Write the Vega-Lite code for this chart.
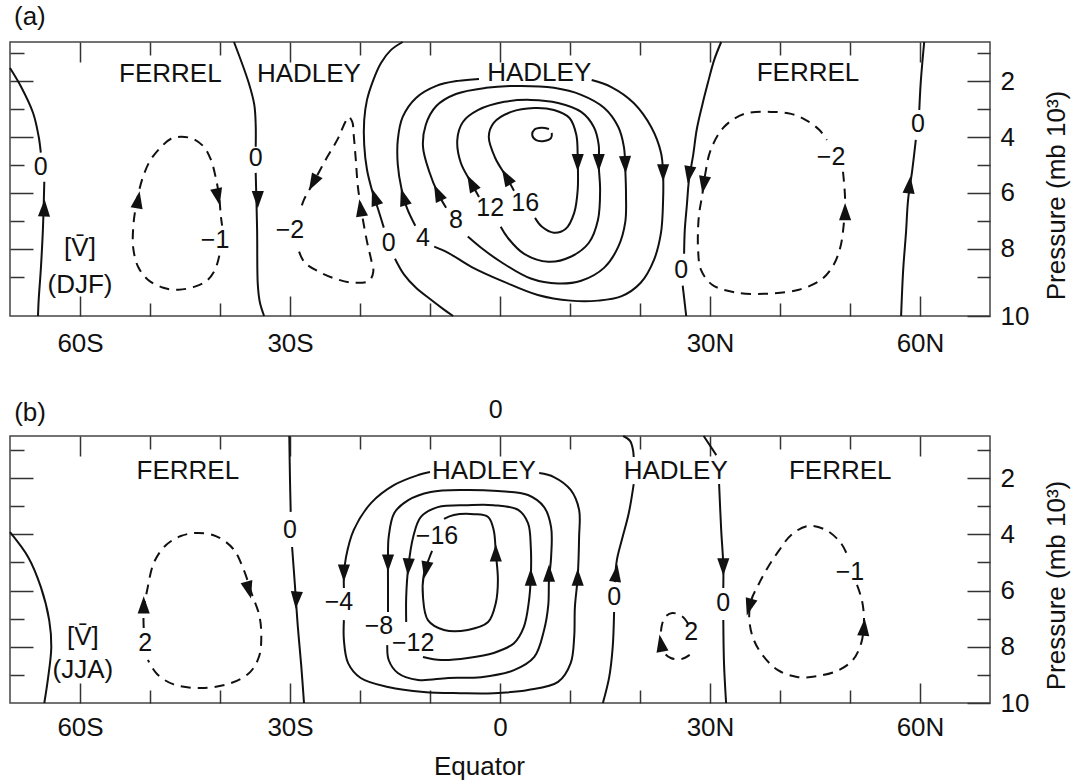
{
  "$schema": "https://vega.github.io/schema/vega-lite/v6.json",
  "background": "white",
  "padding": {"left": 5, "top": 3, "right": 2, "bottom": 2},
  "bounds": "flush",
  "spacing": 120,
  "config": {
    "font": "Liberation Sans",
    "view": {"stroke": "#444", "strokeWidth": 1.5},
    "axis": {"domain": false, "grid": false, "tickColor": "#333", "tickWidth": 1.5, "labelFont": "Liberation Sans", "labelFontSize": 26, "labelColor": "#111", "titleFont": "Liberation Sans", "titleFontSize": 26, "titleFontWeight": "normal", "titleColor": "#111", "labelOverlap": false, "labelFlush": false},
    "title": {"font": "Liberation Sans", "fontSize": 26, "fontWeight": "normal", "color": "#111"}
  },
  "datasets": {
    "a_lines": [
      {"id": "a_z1", "cell": "zero", "lat": -70.0, "p": 1.53}, {"id": "a_z1", "cell": "zero", "lat": -68.4, "p": 2.21}, {"id": "a_z1", "cell": "zero", "lat": -66.7, "p": 3.14}, {"id": "a_z1", "cell": "zero", "lat": -65.9, "p": 3.99}, {"id": "a_z1", "cell": "zero", "lat": -65.6, "p": 4.56},
      {"id": "a_z2", "cell": "zero", "lat": -65.1, "p": 5.6}, {"id": "a_z2", "cell": "zero", "lat": -65.3, "p": 7.31}, {"id": "a_z2", "cell": "zero", "lat": -65.6, "p": 8.74}, {"id": "a_z2", "cell": "zero", "lat": -65.9, "p": 9.81}, {"id": "a_z2", "cell": "zero", "lat": -66.0, "p": 10.4},
      {"id": "a_z3", "cell": "zero", "lat": -38.0, "p": 0.6}, {"id": "a_z3", "cell": "zero", "lat": -35.9, "p": 2.06}, {"id": "a_z3", "cell": "zero", "lat": -35.1, "p": 2.85}, {"id": "a_z3", "cell": "zero", "lat": -34.9, "p": 3.56}, {"id": "a_z3", "cell": "zero", "lat": -34.9, "p": 4.35},
      {"id": "a_z4", "cell": "zero", "lat": -34.9, "p": 5.28}, {"id": "a_z4", "cell": "zero", "lat": -34.7, "p": 7.31}, {"id": "a_z4", "cell": "zero", "lat": -34.6, "p": 9.28}, {"id": "a_z4", "cell": "zero", "lat": -34.3, "p": 9.92}, {"id": "a_z4", "cell": "zero", "lat": -33.7, "p": 10.4},
      {"id": "a_f1", "cell": "Ferrel", "lat": -40.1, "p": 8.24}, {"id": "a_f1", "cell": "Ferrel", "lat": -40.7, "p": 8.74}, {"id": "a_f1", "cell": "Ferrel", "lat": -41.9, "p": 9.14}, {"id": "a_f1", "cell": "Ferrel", "lat": -43.6, "p": 9.35}, {"id": "a_f1", "cell": "Ferrel", "lat": -45.9, "p": 9.46}, {"id": "a_f1", "cell": "Ferrel", "lat": -48.1, "p": 9.39}, {"id": "a_f1", "cell": "Ferrel", "lat": -50.3, "p": 9.1}, {"id": "a_f1", "cell": "Ferrel", "lat": -51.7, "p": 8.64}, {"id": "a_f1", "cell": "Ferrel", "lat": -52.4, "p": 7.96}, {"id": "a_f1", "cell": "Ferrel", "lat": -52.4, "p": 7.24}, {"id": "a_f1", "cell": "Ferrel", "lat": -52.1, "p": 6.6}, {"id": "a_f1", "cell": "Ferrel", "lat": -51.6, "p": 5.96}, {"id": "a_f1", "cell": "Ferrel", "lat": -50.9, "p": 5.35}, {"id": "a_f1", "cell": "Ferrel", "lat": -49.9, "p": 4.81}, {"id": "a_f1", "cell": "Ferrel", "lat": -48.4, "p": 4.35}, {"id": "a_f1", "cell": "Ferrel", "lat": -47.0, "p": 4.06}, {"id": "a_f1", "cell": "Ferrel", "lat": -45.6, "p": 3.99}, {"id": "a_f1", "cell": "Ferrel", "lat": -43.9, "p": 4.06}, {"id": "a_f1", "cell": "Ferrel", "lat": -42.3, "p": 4.35}, {"id": "a_f1", "cell": "Ferrel", "lat": -41.3, "p": 4.81}, {"id": "a_f1", "cell": "Ferrel", "lat": -40.6, "p": 5.46}, {"id": "a_f1", "cell": "Ferrel", "lat": -40.1, "p": 6.17}, {"id": "a_f1", "cell": "Ferrel", "lat": -39.9, "p": 6.78}, {"id": "a_f1", "cell": "Ferrel", "lat": -39.7, "p": 7.17},
      {"id": "a_f2", "cell": "Ferrel", "lat": -28.7, "p": 8.1}, {"id": "a_f2", "cell": "Ferrel", "lat": -27.9, "p": 8.49}, {"id": "a_f2", "cell": "Ferrel", "lat": -25.6, "p": 8.85}, {"id": "a_f2", "cell": "Ferrel", "lat": -23.1, "p": 9.1}, {"id": "a_f2", "cell": "Ferrel", "lat": -20.9, "p": 9.21}, {"id": "a_f2", "cell": "Ferrel", "lat": -18.7, "p": 9.14}, {"id": "a_f2", "cell": "Ferrel", "lat": -18.1, "p": 8.81}, {"id": "a_f2", "cell": "Ferrel", "lat": -18.4, "p": 8.39}, {"id": "a_f2", "cell": "Ferrel", "lat": -19.0, "p": 7.74}, {"id": "a_f2", "cell": "Ferrel", "lat": -19.7, "p": 6.78}, {"id": "a_f2", "cell": "Ferrel", "lat": -20.3, "p": 5.78}, {"id": "a_f2", "cell": "Ferrel", "lat": -20.6, "p": 4.81}, {"id": "a_f2", "cell": "Ferrel", "lat": -20.9, "p": 3.92}, {"id": "a_f2", "cell": "Ferrel", "lat": -21.1, "p": 3.46}, {"id": "a_f2", "cell": "Ferrel", "lat": -21.6, "p": 3.28}, {"id": "a_f2", "cell": "Ferrel", "lat": -22.1, "p": 3.46}, {"id": "a_f2", "cell": "Ferrel", "lat": -23.1, "p": 4.03}, {"id": "a_f2", "cell": "Ferrel", "lat": -24.9, "p": 4.81}, {"id": "a_f2", "cell": "Ferrel", "lat": -26.6, "p": 5.6}, {"id": "a_f2", "cell": "Ferrel", "lat": -28.0, "p": 6.24}, {"id": "a_f2", "cell": "Ferrel", "lat": -28.6, "p": 6.67},
      {"id": "a_z5", "cell": "zero", "lat": -13.9, "p": 0.6}, {"id": "a_z5", "cell": "zero", "lat": -15.6, "p": 0.89}, {"id": "a_z5", "cell": "zero", "lat": -17.0, "p": 1.35}, {"id": "a_z5", "cell": "zero", "lat": -18.1, "p": 1.96}, {"id": "a_z5", "cell": "zero", "lat": -19.0, "p": 2.67}, {"id": "a_z5", "cell": "zero", "lat": -19.4, "p": 3.39}, {"id": "a_z5", "cell": "zero", "lat": -19.4, "p": 4.28}, {"id": "a_z5", "cell": "zero", "lat": -19.0, "p": 5.17}, {"id": "a_z5", "cell": "zero", "lat": -18.3, "p": 5.89}, {"id": "a_z5", "cell": "zero", "lat": -17.3, "p": 6.67}, {"id": "a_z5", "cell": "zero", "lat": -16.6, "p": 7.24},
      {"id": "a_z6", "cell": "zero", "lat": -15.0, "p": 8.35}, {"id": "a_z6", "cell": "zero", "lat": -13.7, "p": 8.92}, {"id": "a_z6", "cell": "zero", "lat": -12.0, "p": 9.39}, {"id": "a_z6", "cell": "zero", "lat": -9.9, "p": 9.81}, {"id": "a_z6", "cell": "zero", "lat": -8.0, "p": 10.17}, {"id": "a_z6", "cell": "zero", "lat": -6.7, "p": 10.4},
      {"id": "a_h4a", "cell": "Hadley", "lat": -12.1, "p": 7.17}, {"id": "a_h4a", "cell": "Hadley", "lat": -13.3, "p": 6.53}, {"id": "a_h4a", "cell": "Hadley", "lat": -14.1, "p": 5.81}, {"id": "a_h4a", "cell": "Hadley", "lat": -14.6, "p": 4.99}, {"id": "a_h4a", "cell": "Hadley", "lat": -14.6, "p": 4.1}, {"id": "a_h4a", "cell": "Hadley", "lat": -13.9, "p": 3.28}, {"id": "a_h4a", "cell": "Hadley", "lat": -12.0, "p": 2.6}, {"id": "a_h4a", "cell": "Hadley", "lat": -9.1, "p": 2.17}, {"id": "a_h4a", "cell": "Hadley", "lat": -6.0, "p": 1.99}, {"id": "a_h4a", "cell": "Hadley", "lat": -3.0, "p": 1.92},
      {"id": "a_h4b", "cell": "Hadley", "lat": 13.1, "p": 1.96}, {"id": "a_h4b", "cell": "Hadley", "lat": 15.9, "p": 2.21}, {"id": "a_h4b", "cell": "Hadley", "lat": 19.1, "p": 2.78}, {"id": "a_h4b", "cell": "Hadley", "lat": 21.6, "p": 3.64}, {"id": "a_h4b", "cell": "Hadley", "lat": 23.0, "p": 4.56}, {"id": "a_h4b", "cell": "Hadley", "lat": 23.3, "p": 5.35}, {"id": "a_h4b", "cell": "Hadley", "lat": 23.3, "p": 6.24}, {"id": "a_h4b", "cell": "Hadley", "lat": 23.0, "p": 7.42}, {"id": "a_h4b", "cell": "Hadley", "lat": 22.0, "p": 8.39}, {"id": "a_h4b", "cell": "Hadley", "lat": 20.1, "p": 9.21}, {"id": "a_h4b", "cell": "Hadley", "lat": 17.3, "p": 9.7}, {"id": "a_h4b", "cell": "Hadley", "lat": 14.0, "p": 9.85}, {"id": "a_h4b", "cell": "Hadley", "lat": 10.1, "p": 9.85}, {"id": "a_h4b", "cell": "Hadley", "lat": 5.4, "p": 9.65}, {"id": "a_h4b", "cell": "Hadley", "lat": 0.6, "p": 9.18}, {"id": "a_h4b", "cell": "Hadley", "lat": -4.1, "p": 8.64}, {"id": "a_h4b", "cell": "Hadley", "lat": -7.4, "p": 8.14}, {"id": "a_h4b", "cell": "Hadley", "lat": -9.4, "p": 7.92},
      {"id": "a_h8", "cell": "Hadley", "lat": -7.7, "p": 6.53}, {"id": "a_h8", "cell": "Hadley", "lat": -8.9, "p": 5.99}, {"id": "a_h8", "cell": "Hadley", "lat": -10.1, "p": 5.24}, {"id": "a_h8", "cell": "Hadley", "lat": -11.0, "p": 4.35}, {"id": "a_h8", "cell": "Hadley", "lat": -10.6, "p": 3.56}, {"id": "a_h8", "cell": "Hadley", "lat": -9.1, "p": 2.89}, {"id": "a_h8", "cell": "Hadley", "lat": -6.3, "p": 2.46}, {"id": "a_h8", "cell": "Hadley", "lat": -2.0, "p": 2.24}, {"id": "a_h8", "cell": "Hadley", "lat": 3.0, "p": 2.17}, {"id": "a_h8", "cell": "Hadley", "lat": 7.7, "p": 2.24}, {"id": "a_h8", "cell": "Hadley", "lat": 11.6, "p": 2.49}, {"id": "a_h8", "cell": "Hadley", "lat": 14.9, "p": 2.96}, {"id": "a_h8", "cell": "Hadley", "lat": 16.9, "p": 3.64}, {"id": "a_h8", "cell": "Hadley", "lat": 17.7, "p": 4.35}, {"id": "a_h8", "cell": "Hadley", "lat": 17.9, "p": 5.17}, {"id": "a_h8", "cell": "Hadley", "lat": 18.0, "p": 6.06}, {"id": "a_h8", "cell": "Hadley", "lat": 17.9, "p": 7.03}, {"id": "a_h8", "cell": "Hadley", "lat": 16.9, "p": 7.92}, {"id": "a_h8", "cell": "Hadley", "lat": 14.9, "p": 8.67}, {"id": "a_h8", "cell": "Hadley", "lat": 11.6, "p": 9.14}, {"id": "a_h8", "cell": "Hadley", "lat": 8.3, "p": 9.24}, {"id": "a_h8", "cell": "Hadley", "lat": 4.4, "p": 9.06}, {"id": "a_h8", "cell": "Hadley", "lat": 0.1, "p": 8.46}, {"id": "a_h8", "cell": "Hadley", "lat": -2.7, "p": 7.96}, {"id": "a_h8", "cell": "Hadley", "lat": -4.6, "p": 7.56},
      {"id": "a_h12", "cell": "Hadley", "lat": -3.0, "p": 6.14}, {"id": "a_h12", "cell": "Hadley", "lat": -4.1, "p": 5.64}, {"id": "a_h12", "cell": "Hadley", "lat": -5.6, "p": 4.92}, {"id": "a_h12", "cell": "Hadley", "lat": -6.1, "p": 4.1}, {"id": "a_h12", "cell": "Hadley", "lat": -5.3, "p": 3.46}, {"id": "a_h12", "cell": "Hadley", "lat": -3.1, "p": 3.03}, {"id": "a_h12", "cell": "Hadley", "lat": 0.6, "p": 2.74}, {"id": "a_h12", "cell": "Hadley", "lat": 4.4, "p": 2.67}, {"id": "a_h12", "cell": "Hadley", "lat": 8.3, "p": 2.78}, {"id": "a_h12", "cell": "Hadley", "lat": 11.6, "p": 3.1}, {"id": "a_h12", "cell": "Hadley", "lat": 13.4, "p": 3.64}, {"id": "a_h12", "cell": "Hadley", "lat": 14.1, "p": 4.28}, {"id": "a_h12", "cell": "Hadley", "lat": 14.1, "p": 4.99}, {"id": "a_h12", "cell": "Hadley", "lat": 14.3, "p": 5.89}, {"id": "a_h12", "cell": "Hadley", "lat": 14.0, "p": 6.96}, {"id": "a_h12", "cell": "Hadley", "lat": 12.7, "p": 7.78}, {"id": "a_h12", "cell": "Hadley", "lat": 10.1, "p": 8.28}, {"id": "a_h12", "cell": "Hadley", "lat": 6.9, "p": 8.46}, {"id": "a_h12", "cell": "Hadley", "lat": 3.4, "p": 8.17}, {"id": "a_h12", "cell": "Hadley", "lat": 1.1, "p": 7.6}, {"id": "a_h12", "cell": "Hadley", "lat": 0.1, "p": 7.21},
      {"id": "a_h16", "cell": "Hadley", "lat": 2.0, "p": 5.92}, {"id": "a_h16", "cell": "Hadley", "lat": 0.9, "p": 5.42}, {"id": "a_h16", "cell": "Hadley", "lat": -0.7, "p": 4.74}, {"id": "a_h16", "cell": "Hadley", "lat": -1.6, "p": 3.99}, {"id": "a_h16", "cell": "Hadley", "lat": -0.9, "p": 3.49}, {"id": "a_h16", "cell": "Hadley", "lat": 1.6, "p": 3.1}, {"id": "a_h16", "cell": "Hadley", "lat": 4.9, "p": 2.96}, {"id": "a_h16", "cell": "Hadley", "lat": 7.7, "p": 3.03}, {"id": "a_h16", "cell": "Hadley", "lat": 9.9, "p": 3.31}, {"id": "a_h16", "cell": "Hadley", "lat": 10.9, "p": 3.92}, {"id": "a_h16", "cell": "Hadley", "lat": 11.1, "p": 4.81}, {"id": "a_h16", "cell": "Hadley", "lat": 11.1, "p": 5.89}, {"id": "a_h16", "cell": "Hadley", "lat": 10.6, "p": 6.71}, {"id": "a_h16", "cell": "Hadley", "lat": 9.4, "p": 7.28}, {"id": "a_h16", "cell": "Hadley", "lat": 7.7, "p": 7.42}, {"id": "a_h16", "cell": "Hadley", "lat": 6.0, "p": 7.21}, {"id": "a_h16", "cell": "Hadley", "lat": 5.0, "p": 6.89},
      {"id": "a_h20", "cell": "Hadley", "lat": 7.0, "p": 3.71}, {"id": "a_h20", "cell": "Hadley", "lat": 5.9, "p": 3.67}, {"id": "a_h20", "cell": "Hadley", "lat": 4.9, "p": 3.74}, {"id": "a_h20", "cell": "Hadley", "lat": 4.6, "p": 3.92}, {"id": "a_h20", "cell": "Hadley", "lat": 5.1, "p": 4.1}, {"id": "a_h20", "cell": "Hadley", "lat": 6.3, "p": 4.14}, {"id": "a_h20", "cell": "Hadley", "lat": 7.3, "p": 4.03}, {"id": "a_h20", "cell": "Hadley", "lat": 7.4, "p": 3.85},
      {"id": "a_z7", "cell": "zero", "lat": 31.6, "p": 0.6}, {"id": "a_z7", "cell": "zero", "lat": 30.6, "p": 1.24}, {"id": "a_z7", "cell": "zero", "lat": 29.7, "p": 2.06}, {"id": "a_z7", "cell": "zero", "lat": 28.9, "p": 2.85}, {"id": "a_z7", "cell": "zero", "lat": 28.1, "p": 3.74}, {"id": "a_z7", "cell": "zero", "lat": 27.6, "p": 4.64}, {"id": "a_z7", "cell": "zero", "lat": 27.0, "p": 5.53}, {"id": "a_z7", "cell": "zero", "lat": 26.7, "p": 6.42}, {"id": "a_z7", "cell": "zero", "lat": 26.4, "p": 7.31}, {"id": "a_z7", "cell": "zero", "lat": 26.3, "p": 8.17},
      {"id": "a_z8", "cell": "zero", "lat": 26.1, "p": 9.31}, {"id": "a_z8", "cell": "zero", "lat": 26.6, "p": 10.4},
      {"id": "a_f3", "cell": "Ferrel", "lat": 49.0, "p": 5.24}, {"id": "a_f3", "cell": "Ferrel", "lat": 49.3, "p": 6.24}, {"id": "a_f3", "cell": "Ferrel", "lat": 49.1, "p": 7.14}, {"id": "a_f3", "cell": "Ferrel", "lat": 48.6, "p": 7.96}, {"id": "a_f3", "cell": "Ferrel", "lat": 47.6, "p": 8.6}, {"id": "a_f3", "cell": "Ferrel", "lat": 45.9, "p": 9.1}, {"id": "a_f3", "cell": "Ferrel", "lat": 42.7, "p": 9.46}, {"id": "a_f3", "cell": "Ferrel", "lat": 38.3, "p": 9.6}, {"id": "a_f3", "cell": "Ferrel", "lat": 33.7, "p": 9.56}, {"id": "a_f3", "cell": "Ferrel", "lat": 30.3, "p": 9.28}, {"id": "a_f3", "cell": "Ferrel", "lat": 28.7, "p": 8.74}, {"id": "a_f3", "cell": "Ferrel", "lat": 28.3, "p": 8.03}, {"id": "a_f3", "cell": "Ferrel", "lat": 28.4, "p": 6.85}, {"id": "a_f3", "cell": "Ferrel", "lat": 28.9, "p": 6.06}, {"id": "a_f3", "cell": "Ferrel", "lat": 29.3, "p": 5.35}, {"id": "a_f3", "cell": "Ferrel", "lat": 30.1, "p": 4.46}, {"id": "a_f3", "cell": "Ferrel", "lat": 32.0, "p": 3.64}, {"id": "a_f3", "cell": "Ferrel", "lat": 34.9, "p": 3.17}, {"id": "a_f3", "cell": "Ferrel", "lat": 38.7, "p": 3.1}, {"id": "a_f3", "cell": "Ferrel", "lat": 41.6, "p": 3.17}, {"id": "a_f3", "cell": "Ferrel", "lat": 43.7, "p": 3.39}, {"id": "a_f3", "cell": "Ferrel", "lat": 45.6, "p": 3.74}, {"id": "a_f3", "cell": "Ferrel", "lat": 46.7, "p": 4.1},
      {"id": "a_z9", "cell": "zero", "lat": 60.6, "p": 0.6}, {"id": "a_z9", "cell": "zero", "lat": 60.1, "p": 2.06}, {"id": "a_z9", "cell": "zero", "lat": 59.9, "p": 3.03},
      {"id": "a_z10", "cell": "zero", "lat": 59.4, "p": 4.1}, {"id": "a_z10", "cell": "zero", "lat": 58.9, "p": 5.17}, {"id": "a_z10", "cell": "zero", "lat": 58.3, "p": 6.24}, {"id": "a_z10", "cell": "zero", "lat": 58.0, "p": 7.42}, {"id": "a_z10", "cell": "zero", "lat": 57.6, "p": 8.74}, {"id": "a_z10", "cell": "zero", "lat": 57.3, "p": 10.4}
    ],
    "a_arrows": [
      {"lat": -65.1, "p": 6.53, "heading": 2}, {"lat": -34.6, "p": 6.24, "heading": 180}, {"lat": -40.3, "p": 6.14, "heading": 168}, {"lat": -51.7, "p": 6.24, "heading": 10},
      {"lat": -19.9, "p": 6.53, "heading": 351}, {"lat": -26.7, "p": 5.64, "heading": 209}, {"lat": -17.9, "p": 6.14, "heading": 342}, {"lat": -13.8, "p": 6.14, "heading": 343},
      {"lat": 23.3, "p": 5.28, "heading": 180}, {"lat": -8.9, "p": 5.99, "heading": 335}, {"lat": 17.9, "p": 4.99, "heading": 178}, {"lat": -4.1, "p": 5.64, "heading": 332},
      {"lat": 14.1, "p": 4.92, "heading": 180}, {"lat": 0.9, "p": 5.42, "heading": 330}, {"lat": 11.1, "p": 4.92, "heading": 180}, {"lat": 27.0, "p": 5.35, "heading": 189},
      {"lat": 29.1, "p": 5.71, "heading": 189}, {"lat": 49.3, "p": 6.67, "heading": 0}, {"lat": 58.5, "p": 5.71, "heading": 6}
    ],
    "a_labels": [
      {"text": "0", "lat": -65.6, "p": 5.06}, {"text": "0", "lat": -34.9, "p": 4.74}, {"text": "−1", "lat": -40.7, "p": 7.67}, {"text": "−2", "lat": -30.0, "p": 7.31},
      {"text": "0", "lat": -15.9, "p": 7.78}, {"text": "4", "lat": -11.0, "p": 7.6}, {"text": "8", "lat": -6.3, "p": 6.96}, {"text": "12", "lat": -1.4, "p": 6.53},
      {"text": "16", "lat": 3.6, "p": 6.35}, {"text": "0", "lat": 25.9, "p": 8.74}, {"text": "−2", "lat": 47.3, "p": 4.71}, {"text": "0", "lat": 59.7, "p": 3.53}
    ],
    "a_names": [
      {"text": "FERREL", "lat": -47.1, "p": 1.74}, {"text": "HADLEY", "lat": -27.3, "p": 1.74}, {"text": "HADLEY", "lat": 5.6, "p": 1.71}, {"text": "FERREL", "lat": 44.0, "p": 1.71},
      {"text": "[V̄]", "lat": -60.0, "p": 7.96}, {"text": "(DJF)", "lat": -60.0, "p": 9.28}
    ],
    "b_lines": [
      {"id": "b_z1", "cell": "zero", "lat": -70.0, "p": 3.92}, {"id": "b_z1", "cell": "zero", "lat": -67.4, "p": 4.81}, {"id": "b_z1", "cell": "zero", "lat": -65.6, "p": 5.87}, {"id": "b_z1", "cell": "zero", "lat": -64.4, "p": 7.05}, {"id": "b_z1", "cell": "zero", "lat": -64.1, "p": 8.01}, {"id": "b_z1", "cell": "zero", "lat": -64.6, "p": 9.18}, {"id": "b_z1", "cell": "zero", "lat": -65.1, "p": 10.0},
      {"id": "b_f1", "cell": "Ferrel", "lat": -50.9, "p": 7.33}, {"id": "b_f1", "cell": "Ferrel", "lat": -50.9, "p": 6.69}, {"id": "b_f1", "cell": "Ferrel", "lat": -50.4, "p": 5.98}, {"id": "b_f1", "cell": "Ferrel", "lat": -49.4, "p": 4.98}, {"id": "b_f1", "cell": "Ferrel", "lat": -47.7, "p": 4.38}, {"id": "b_f1", "cell": "Ferrel", "lat": -45.6, "p": 4.06}, {"id": "b_f1", "cell": "Ferrel", "lat": -43.3, "p": 3.95}, {"id": "b_f1", "cell": "Ferrel", "lat": -40.6, "p": 4.06}, {"id": "b_f1", "cell": "Ferrel", "lat": -38.1, "p": 4.52}, {"id": "b_f1", "cell": "Ferrel", "lat": -36.6, "p": 5.27}, {"id": "b_f1", "cell": "Ferrel", "lat": -35.4, "p": 6.16}, {"id": "b_f1", "cell": "Ferrel", "lat": -34.4, "p": 6.87}, {"id": "b_f1", "cell": "Ferrel", "lat": -34.1, "p": 7.58}, {"id": "b_f1", "cell": "Ferrel", "lat": -34.4, "p": 8.33}, {"id": "b_f1", "cell": "Ferrel", "lat": -35.7, "p": 8.9}, {"id": "b_f1", "cell": "Ferrel", "lat": -38.4, "p": 9.29}, {"id": "b_f1", "cell": "Ferrel", "lat": -42.7, "p": 9.47}, {"id": "b_f1", "cell": "Ferrel", "lat": -46.7, "p": 9.33}, {"id": "b_f1", "cell": "Ferrel", "lat": -49.0, "p": 8.97}, {"id": "b_f1", "cell": "Ferrel", "lat": -50.3, "p": 8.47},
      {"id": "b_z2", "cell": "zero", "lat": -30.1, "p": 0.5}, {"id": "b_z2", "cell": "zero", "lat": -30.0, "p": 2.07}, {"id": "b_z2", "cell": "zero", "lat": -29.9, "p": 3.2},
      {"id": "b_z3", "cell": "zero", "lat": -29.7, "p": 4.45}, {"id": "b_z3", "cell": "zero", "lat": -29.3, "p": 5.8}, {"id": "b_z3", "cell": "zero", "lat": -28.9, "p": 7.23}, {"id": "b_z3", "cell": "zero", "lat": -28.4, "p": 8.65}, {"id": "b_z3", "cell": "zero", "lat": -28.0, "p": 10.0},
      {"id": "b_h4a", "cell": "Hadley", "lat": -22.3, "p": 5.91}, {"id": "b_h4a", "cell": "Hadley", "lat": -22.3, "p": 5.45}, {"id": "b_h4a", "cell": "Hadley", "lat": -22.0, "p": 4.81}, {"id": "b_h4a", "cell": "Hadley", "lat": -20.9, "p": 3.85}, {"id": "b_h4a", "cell": "Hadley", "lat": -18.4, "p": 2.88}, {"id": "b_h4a", "cell": "Hadley", "lat": -15.1, "p": 2.24}, {"id": "b_h4a", "cell": "Hadley", "lat": -11.7, "p": 1.89}, {"id": "b_h4a", "cell": "Hadley", "lat": -10.0, "p": 1.78},
      {"id": "b_h4b", "cell": "Hadley", "lat": 5.6, "p": 1.82}, {"id": "b_h4b", "cell": "Hadley", "lat": 7.7, "p": 1.96}, {"id": "b_h4b", "cell": "Hadley", "lat": 10.1, "p": 2.42}, {"id": "b_h4b", "cell": "Hadley", "lat": 11.3, "p": 3.13}, {"id": "b_h4b", "cell": "Hadley", "lat": 11.3, "p": 4.09}, {"id": "b_h4b", "cell": "Hadley", "lat": 11.1, "p": 5.52}, {"id": "b_h4b", "cell": "Hadley", "lat": 10.7, "p": 6.59}, {"id": "b_h4b", "cell": "Hadley", "lat": 10.6, "p": 7.65}, {"id": "b_h4b", "cell": "Hadley", "lat": 10.1, "p": 8.58}, {"id": "b_h4b", "cell": "Hadley", "lat": 8.3, "p": 9.25}, {"id": "b_h4b", "cell": "Hadley", "lat": 4.0, "p": 9.54}, {"id": "b_h4b", "cell": "Hadley", "lat": -0.9, "p": 9.65}, {"id": "b_h4b", "cell": "Hadley", "lat": -5.6, "p": 9.65}, {"id": "b_h4b", "cell": "Hadley", "lat": -10.9, "p": 9.61}, {"id": "b_h4b", "cell": "Hadley", "lat": -16.0, "p": 9.43}, {"id": "b_h4b", "cell": "Hadley", "lat": -19.9, "p": 9.11}, {"id": "b_h4b", "cell": "Hadley", "lat": -21.7, "p": 8.58}, {"id": "b_h4b", "cell": "Hadley", "lat": -22.3, "p": 7.76}, {"id": "b_h4b", "cell": "Hadley", "lat": -22.3, "p": 7.05},
      {"id": "b_h8", "cell": "Hadley", "lat": -16.0, "p": 6.76}, {"id": "b_h8", "cell": "Hadley", "lat": -16.0, "p": 5.8}, {"id": "b_h8", "cell": "Hadley", "lat": -16.0, "p": 4.91}, {"id": "b_h8", "cell": "Hadley", "lat": -15.9, "p": 4.09}, {"id": "b_h8", "cell": "Hadley", "lat": -15.1, "p": 3.24}, {"id": "b_h8", "cell": "Hadley", "lat": -13.1, "p": 2.78}, {"id": "b_h8", "cell": "Hadley", "lat": -9.9, "p": 2.49}, {"id": "b_h8", "cell": "Hadley", "lat": -5.1, "p": 2.42}, {"id": "b_h8", "cell": "Hadley", "lat": -0.3, "p": 2.46}, {"id": "b_h8", "cell": "Hadley", "lat": 4.0, "p": 2.6}, {"id": "b_h8", "cell": "Hadley", "lat": 6.3, "p": 3.03}, {"id": "b_h8", "cell": "Hadley", "lat": 7.3, "p": 3.74}, {"id": "b_h8", "cell": "Hadley", "lat": 7.3, "p": 4.81}, {"id": "b_h8", "cell": "Hadley", "lat": 7.0, "p": 5.62}, {"id": "b_h8", "cell": "Hadley", "lat": 6.9, "p": 6.51}, {"id": "b_h8", "cell": "Hadley", "lat": 6.3, "p": 7.4}, {"id": "b_h8", "cell": "Hadley", "lat": 4.9, "p": 8.36}, {"id": "b_h8", "cell": "Hadley", "lat": 2.0, "p": 8.83}, {"id": "b_h8", "cell": "Hadley", "lat": -2.7, "p": 9.08}, {"id": "b_h8", "cell": "Hadley", "lat": -7.4, "p": 9.11}, {"id": "b_h8", "cell": "Hadley", "lat": -11.7, "p": 9.18}, {"id": "b_h8", "cell": "Hadley", "lat": -14.6, "p": 8.93}, {"id": "b_h8", "cell": "Hadley", "lat": -15.9, "p": 8.47}, {"id": "b_h8", "cell": "Hadley", "lat": -16.1, "p": 7.94},
      {"id": "b_h12", "cell": "Hadley", "lat": -13.4, "p": 7.12}, {"id": "b_h12", "cell": "Hadley", "lat": -13.4, "p": 6.23}, {"id": "b_h12", "cell": "Hadley", "lat": -13.1, "p": 5.16}, {"id": "b_h12", "cell": "Hadley", "lat": -12.4, "p": 4.09}, {"id": "b_h12", "cell": "Hadley", "lat": -11.3, "p": 3.38}, {"id": "b_h12", "cell": "Hadley", "lat": -8.9, "p": 3.03}, {"id": "b_h12", "cell": "Hadley", "lat": -4.6, "p": 2.96}, {"id": "b_h12", "cell": "Hadley", "lat": -0.9, "p": 2.96}, {"id": "b_h12", "cell": "Hadley", "lat": 2.6, "p": 3.13}, {"id": "b_h12", "cell": "Hadley", "lat": 4.0, "p": 3.6}, {"id": "b_h12", "cell": "Hadley", "lat": 4.4, "p": 4.45}, {"id": "b_h12", "cell": "Hadley", "lat": 4.4, "p": 5.52}, {"id": "b_h12", "cell": "Hadley", "lat": 4.1, "p": 6.44}, {"id": "b_h12", "cell": "Hadley", "lat": 3.4, "p": 7.3}, {"id": "b_h12", "cell": "Hadley", "lat": 2.0, "p": 7.87}, {"id": "b_h12", "cell": "Hadley", "lat": -0.9, "p": 8.22}, {"id": "b_h12", "cell": "Hadley", "lat": -4.6, "p": 8.4}, {"id": "b_h12", "cell": "Hadley", "lat": -8.4, "p": 8.47}, {"id": "b_h12", "cell": "Hadley", "lat": -11.0, "p": 8.36},
      {"id": "b_h16", "cell": "Hadley", "lat": -8.0, "p": 3.45}, {"id": "b_h16", "cell": "Hadley", "lat": -6.6, "p": 3.31}, {"id": "b_h16", "cell": "Hadley", "lat": -3.7, "p": 3.28}, {"id": "b_h16", "cell": "Hadley", "lat": -1.7, "p": 3.38}, {"id": "b_h16", "cell": "Hadley", "lat": -0.9, "p": 3.85}, {"id": "b_h16", "cell": "Hadley", "lat": -0.6, "p": 4.66}, {"id": "b_h16", "cell": "Hadley", "lat": -0.3, "p": 5.62}, {"id": "b_h16", "cell": "Hadley", "lat": -0.6, "p": 6.44}, {"id": "b_h16", "cell": "Hadley", "lat": -1.7, "p": 7.12}, {"id": "b_h16", "cell": "Hadley", "lat": -4.6, "p": 7.4}, {"id": "b_h16", "cell": "Hadley", "lat": -8.0, "p": 7.4}, {"id": "b_h16", "cell": "Hadley", "lat": -10.3, "p": 7.05}, {"id": "b_h16", "cell": "Hadley", "lat": -11.0, "p": 6.23}, {"id": "b_h16", "cell": "Hadley", "lat": -10.9, "p": 5.45}, {"id": "b_h16", "cell": "Hadley", "lat": -10.1, "p": 4.84}, {"id": "b_h16", "cell": "Hadley", "lat": -9.7, "p": 4.59},
      {"id": "b_z4", "cell": "zero", "lat": 17.6, "p": 0.5}, {"id": "b_z4", "cell": "zero", "lat": 18.6, "p": 0.68}, {"id": "b_z4", "cell": "zero", "lat": 19.0, "p": 1.0}, {"id": "b_z4", "cell": "zero", "lat": 19.1, "p": 1.25},
      {"id": "b_z5", "cell": "zero", "lat": 19.1, "p": 2.21}, {"id": "b_z5", "cell": "zero", "lat": 18.4, "p": 3.24}, {"id": "b_z5", "cell": "zero", "lat": 17.4, "p": 4.2}, {"id": "b_z5", "cell": "zero", "lat": 16.7, "p": 4.91}, {"id": "b_z5", "cell": "zero", "lat": 16.4, "p": 5.7},
      {"id": "b_z6", "cell": "zero", "lat": 16.3, "p": 6.76}, {"id": "b_z6", "cell": "zero", "lat": 16.1, "p": 8.01}, {"id": "b_z6", "cell": "zero", "lat": 15.6, "p": 9.08}, {"id": "b_z6", "cell": "zero", "lat": 14.7, "p": 10.0},
      {"id": "b_z7", "cell": "zero", "lat": 29.1, "p": 0.5}, {"id": "b_z7", "cell": "zero", "lat": 30.9, "p": 1.18},
      {"id": "b_z8", "cell": "zero", "lat": 31.3, "p": 2.21}, {"id": "b_z8", "cell": "zero", "lat": 31.6, "p": 3.85}, {"id": "b_z8", "cell": "zero", "lat": 31.9, "p": 5.09}, {"id": "b_z8", "cell": "zero", "lat": 31.9, "p": 5.91},
      {"id": "b_z9", "cell": "zero", "lat": 31.9, "p": 7.05}, {"id": "b_z9", "cell": "zero", "lat": 32.0, "p": 8.58}, {"id": "b_z9", "cell": "zero", "lat": 32.3, "p": 10.0},
      {"id": "b_f2", "cell": "Ferrel", "lat": 26.9, "p": 7.19}, {"id": "b_f2", "cell": "Ferrel", "lat": 26.0, "p": 6.91}, {"id": "b_f2", "cell": "Ferrel", "lat": 24.6, "p": 6.8}, {"id": "b_f2", "cell": "Ferrel", "lat": 23.6, "p": 6.94}, {"id": "b_f2", "cell": "Ferrel", "lat": 23.1, "p": 7.26}, {"id": "b_f2", "cell": "Ferrel", "lat": 23.0, "p": 7.76}, {"id": "b_f2", "cell": "Ferrel", "lat": 23.4, "p": 8.19}, {"id": "b_f2", "cell": "Ferrel", "lat": 24.4, "p": 8.4}, {"id": "b_f2", "cell": "Ferrel", "lat": 25.9, "p": 8.44}, {"id": "b_f2", "cell": "Ferrel", "lat": 27.1, "p": 8.29},
      {"id": "b_f3", "cell": "Ferrel", "lat": 51.0, "p": 5.8}, {"id": "b_f3", "cell": "Ferrel", "lat": 51.7, "p": 6.34}, {"id": "b_f3", "cell": "Ferrel", "lat": 52.0, "p": 7.05}, {"id": "b_f3", "cell": "Ferrel", "lat": 51.6, "p": 7.87}, {"id": "b_f3", "cell": "Ferrel", "lat": 50.4, "p": 8.47}, {"id": "b_f3", "cell": "Ferrel", "lat": 48.4, "p": 8.83}, {"id": "b_f3", "cell": "Ferrel", "lat": 45.4, "p": 9.04}, {"id": "b_f3", "cell": "Ferrel", "lat": 42.6, "p": 9.08}, {"id": "b_f3", "cell": "Ferrel", "lat": 39.7, "p": 8.83}, {"id": "b_f3", "cell": "Ferrel", "lat": 37.4, "p": 8.26}, {"id": "b_f3", "cell": "Ferrel", "lat": 36.1, "p": 7.65}, {"id": "b_f3", "cell": "Ferrel", "lat": 35.6, "p": 6.94}, {"id": "b_f3", "cell": "Ferrel", "lat": 35.9, "p": 6.34}, {"id": "b_f3", "cell": "Ferrel", "lat": 36.9, "p": 5.8}, {"id": "b_f3", "cell": "Ferrel", "lat": 38.3, "p": 5.16}, {"id": "b_f3", "cell": "Ferrel", "lat": 39.9, "p": 4.56}, {"id": "b_f3", "cell": "Ferrel", "lat": 41.6, "p": 4.02}, {"id": "b_f3", "cell": "Ferrel", "lat": 44.0, "p": 3.7}, {"id": "b_f3", "cell": "Ferrel", "lat": 46.6, "p": 3.85}, {"id": "b_f3", "cell": "Ferrel", "lat": 48.7, "p": 4.31}, {"id": "b_f3", "cell": "Ferrel", "lat": 49.6, "p": 4.73}
    ],
    "b_arrows": [
      {"lat": -50.9, "p": 6.51, "heading": 0}, {"lat": -35.9, "p": 5.98, "heading": 165}, {"lat": -29.1, "p": 6.34, "heading": 184}, {"lat": -22.3, "p": 5.38, "heading": 180},
      {"lat": 11.1, "p": 5.52, "heading": 0}, {"lat": -16.0, "p": 5.02, "heading": 180}, {"lat": 7.0, "p": 5.38, "heading": 0}, {"lat": -13.1, "p": 5.16, "heading": 183},
      {"lat": 4.4, "p": 5.52, "heading": 0}, {"lat": -0.6, "p": 4.66, "heading": 0}, {"lat": -10.6, "p": 5.27, "heading": 191}, {"lat": 16.6, "p": 5.38, "heading": 8},
      {"lat": 31.9, "p": 5.16, "heading": 180}, {"lat": 23.0, "p": 7.87, "heading": 350}, {"lat": 52.0, "p": 7.3, "heading": 5}, {"lat": 35.6, "p": 6.59, "heading": 196}
    ],
    "b_labels": [
      {"text": "0", "lat": -30.0, "p": 3.85}, {"text": "2", "lat": -50.7, "p": 7.87}, {"text": "−4", "lat": -23.0, "p": 6.41}, {"text": "−8", "lat": -17.3, "p": 7.26},
      {"text": "−12", "lat": -12.4, "p": 7.87}, {"text": "−16", "lat": -9.0, "p": 4.06}, {"text": "0", "lat": 16.3, "p": 6.23}, {"text": "2", "lat": 27.3, "p": 7.48},
      {"text": "0", "lat": 31.9, "p": 6.44}, {"text": "−1", "lat": 50.0, "p": 5.34}, {"text": "0", "lat": -0.6, "p": -0.43}
    ],
    "b_names": [
      {"text": "FERREL", "lat": -44.6, "p": 1.75}, {"text": "HADLEY", "lat": -2.3, "p": 1.75}, {"text": "HADLEY", "lat": 25.1, "p": 1.75}, {"text": "FERREL", "lat": 48.6, "p": 1.75},
      {"text": "[V̄]", "lat": -59.6, "p": 7.65}, {"text": "(JJA)", "lat": -59.6, "p": 8.83}
    ],
    "b_panel": [
      {"text": "(b)", "lat": -69.4, "p": -0.32}
    ]
  },
  "vconcat": [
    {
      "width": 980,
      "height": 274,
      "title": {"text": "(a)", "anchor": "start", "frame": "group", "offset": 8, "dx": 4},
      "resolve": {"axis": {"x": "independent", "y": "independent"}},
      "layer": [
        {
          "data": {"name": "a_lines"},
          "transform": [{"filter": "datum.cell !== 'Ferrel'"}],
          "mark": {"type": "line", "color": "#111", "strokeWidth": 2, "interpolate": "catmull-rom"},
          "encoding": {
            "x": {"field": "lat", "type": "quantitative", "scale": {"domain": [-70, 70], "nice": false, "zero": false},
              "axis": {"orient": "bottom", "title": null, "values": [-60, -50, -40, -30, -20, -10, 0, 10, 20, 30, 40, 50, 60],
                "labelExpr": "datum.value === -60 ? '60S' : datum.value === -30 ? '30S' : datum.value === 30 ? '30N' : datum.value === 60 ? '60N' : ''",
                "tickSize": {"condition": {"test": "datum.value % 30 === 0", "value": -20}, "value": -13},
                "labelPadding": 55, "labelBaseline": "alphabetic"}},
            "y": {"field": "p", "type": "quantitative", "scale": {"domain": [0.6, 10.4], "reverse": true, "nice": false, "zero": false},
              "axis": {"orient": "right", "values": [1, 2, 3, 4, 5, 6, 7, 8, 9, 10.4],
                "labelExpr": "datum.value > 10 ? '10' : (datum.value % 2 === 0 ? format(datum.value, 'd') : '')",
                "tickSize": {"condition": {"test": "datum.value % 2 === 0 || datum.value > 10", "value": -23}, "value": -13},
                "labelPadding": 33, "labelAlign": "left", "labelBaseline": "middle",
                "title": "Pressure (mb 10³)", "titleAngle": 270, "titleX": 66, "titleY": 153, "titleAlign": "center", "titleBaseline": "middle"}},
            "detail": {"field": "id"},
            "order": {"value": null}
          }
        },
        {
          "data": {"name": "a_lines"},
          "transform": [{"filter": "datum.cell === 'Ferrel'"}],
          "mark": {"type": "line", "color": "#111", "strokeWidth": 2, "strokeDash": [10, 7], "interpolate": "catmull-rom"},
          "encoding": {
            "x": {"field": "lat", "type": "quantitative",
              "axis": {"orient": "top", "title": null, "labels": false, "values": [-60, -50, -40, -30, -20, -10, 0, 10, 20, 30, 40, 50, 60],
                "tickSize": {"condition": {"test": "datum.value % 30 === 0", "value": -20}, "value": -13}}},
            "y": {"field": "p", "type": "quantitative",
              "axis": {"orient": "left", "title": null, "labels": false, "values": [1, 2, 3, 4, 5, 6, 7, 8, 9],
                "tickSize": {"condition": {"test": "datum.value % 2 === 0", "value": -23}, "value": -14}}},
            "detail": {"field": "id"},
            "order": {"value": null}
          }
        },
        {
          "data": {"name": "a_arrows"},
          "mark": {"type": "point", "shape": "M0,-1L0.7,1L-0.7,1Z", "filled": true, "color": "#111", "opacity": 1, "size": 300},
          "encoding": {
            "x": {"field": "lat", "type": "quantitative", "axis": null},
            "y": {"field": "p", "type": "quantitative", "axis": null},
            "angle": {"field": "heading", "type": "quantitative", "scale": null}
          }
        },
        {
          "data": {"name": "a_labels"},
          "mark": {"type": "text", "font": "Liberation Sans", "fontSize": 25, "color": "#111", "align": "center", "baseline": "middle"},
          "encoding": {
            "x": {"field": "lat", "type": "quantitative", "axis": null},
            "y": {"field": "p", "type": "quantitative", "axis": null},
            "text": {"field": "text"}
          }
        },
        {
          "data": {"name": "a_names"},
          "mark": {"type": "text", "font": "Liberation Sans", "fontSize": 26, "color": "#111", "align": "center", "baseline": "middle"},
          "encoding": {
            "x": {"field": "lat", "type": "quantitative", "axis": null},
            "y": {"field": "p", "type": "quantitative", "axis": null},
            "text": {"field": "text"}
          }
        }
      ]
    },
    {
      "width": 980,
      "height": 267,
      "resolve": {"axis": {"x": "independent", "y": "independent"}},
      "layer": [
        {
          "data": {"name": "b_lines"},
          "transform": [{"filter": "datum.cell !== 'Ferrel'"}],
          "mark": {"type": "line", "color": "#111", "strokeWidth": 2, "interpolate": "catmull-rom"},
          "encoding": {
            "x": {"field": "lat", "type": "quantitative", "scale": {"domain": [-70, 70], "nice": false, "zero": false},
              "axis": {"orient": "bottom", "values": [-60, -50, -40, -30, -20, -10, 0, 10, 20, 30, 40, 50, 60],
                "labelExpr": "datum.value === -60 ? '60S' : datum.value === -30 ? '30S' : datum.value === 0 ? '0' : datum.value === 30 ? '30N' : datum.value === 60 ? '60N' : ''",
                "tickSize": {"condition": {"test": "datum.value % 30 === 0", "value": -20}, "value": -13},
                "labelPadding": 52, "labelBaseline": "alphabetic",
                "title": "Equator", "titleX": 469, "titleY": 71, "titleAlign": "center", "titleBaseline": "alphabetic"}},
            "y": {"field": "p", "type": "quantitative", "scale": {"domain": [0.5, 10.0], "reverse": true, "nice": false, "zero": false},
              "axis": {"orient": "right", "values": [1, 2, 3, 4, 5, 6, 7, 8, 9, 10],
                "labelExpr": "datum.value % 2 === 0 ? format(datum.value, 'd') : ''",
                "tickSize": {"condition": {"test": "datum.value % 2 === 0", "value": -23}, "value": -13},
                "labelPadding": 33, "labelAlign": "left", "labelBaseline": "middle",
                "title": "Pressure (mb 10³)", "titleAngle": 270, "titleX": 66, "titleY": 149, "titleAlign": "center", "titleBaseline": "middle"}},
            "detail": {"field": "id"},
            "order": {"value": null}
          }
        },
        {
          "data": {"name": "b_lines"},
          "transform": [{"filter": "datum.cell === 'Ferrel'"}],
          "mark": {"type": "line", "color": "#111", "strokeWidth": 2, "strokeDash": [10, 7], "interpolate": "catmull-rom"},
          "encoding": {
            "x": {"field": "lat", "type": "quantitative",
              "axis": {"orient": "top", "title": null, "labels": false, "values": [-60, -50, -40, -30, -20, -10, 0, 10, 20, 30, 40, 50, 60],
                "tickSize": {"condition": {"test": "datum.value % 30 === 0", "value": -20}, "value": -13}}},
            "y": {"field": "p", "type": "quantitative",
              "axis": {"orient": "left", "title": null, "labels": false, "values": [1, 2, 3, 4, 5, 6, 7, 8, 9],
                "tickSize": {"condition": {"test": "datum.value % 2 === 0", "value": -23}, "value": -14}}},
            "detail": {"field": "id"},
            "order": {"value": null}
          }
        },
        {
          "data": {"name": "b_arrows"},
          "mark": {"type": "point", "shape": "M0,-1L0.7,1L-0.7,1Z", "filled": true, "color": "#111", "opacity": 1, "size": 300},
          "encoding": {
            "x": {"field": "lat", "type": "quantitative", "axis": null},
            "y": {"field": "p", "type": "quantitative", "axis": null},
            "angle": {"field": "heading", "type": "quantitative", "scale": null}
          }
        },
        {
          "data": {"name": "b_labels"},
          "mark": {"type": "text", "font": "Liberation Sans", "fontSize": 25, "color": "#111", "align": "center", "baseline": "middle"},
          "encoding": {
            "x": {"field": "lat", "type": "quantitative", "axis": null},
            "y": {"field": "p", "type": "quantitative", "axis": null},
            "text": {"field": "text"}
          }
        },
        {
          "data": {"name": "b_names"},
          "mark": {"type": "text", "font": "Liberation Sans", "fontSize": 26, "color": "#111", "align": "center", "baseline": "middle"},
          "encoding": {
            "x": {"field": "lat", "type": "quantitative", "axis": null},
            "y": {"field": "p", "type": "quantitative", "axis": null},
            "text": {"field": "text"}
          }
        },
        {
          "data": {"name": "b_panel"},
          "mark": {"type": "text", "font": "Liberation Sans", "fontSize": 26, "color": "#111", "align": "left", "baseline": "middle"},
          "encoding": {
            "x": {"field": "lat", "type": "quantitative", "axis": null},
            "y": {"field": "p", "type": "quantitative", "axis": null},
            "text": {"field": "text"}
          }
        }
      ]
    }
  ]
}
